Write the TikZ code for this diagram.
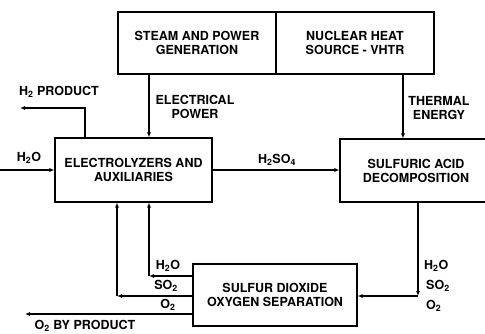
\documentclass[tikz,border=0pt]{standalone}
\usepackage{fontspec}
\setmainfont{TeX Gyre Heros}
\usetikzlibrary{arrows.meta}
\begin{document}
\begin{tikzpicture}[x=1pt,y=1pt,
    box/.style={rectangle,draw,line width=1.1pt,align=center,inner sep=0pt},
    flow/.style={line width=1.1pt,-{Latex[length=5pt,width=4pt]}},
    lbl/.style={align=center,inner sep=0pt},
    font=\fontsize{12.5}{14}\selectfont\bfseries]
        \clip (0,0) rectangle (485,333);
        % blocks
        \node[box,minimum width=158,minimum height=62] at (197,290) (steam) {STEAM AND POWER\\GENERATION};
        \node[box,minimum width=158,minimum height=62] at (355,290) (nuclear) {NUCLEAR HEAT\\SOURCE - VHTR};
        \node[box,minimum width=157,minimum height=64] at (133.5,163) (elec) {ELECTROLYZERS AND\\AUXILIARIES};
        \node[box,minimum width=152,minimum height=63] at (416,162.5) (acid) {SULFURIC ACID\\DECOMPOSITION};
        \node[box,minimum width=164,minimum height=62] at (275,38) (sep) {SULFUR DIOXIDE\\OXYGEN SEPARATION};
        % free ends and corners
        \coordinate (h2in) at (0,163);
        \coordinate (h2out) at (20,225);
        \coordinate (o2out) at (25,19);
        \coordinate (cr) at (418,37);
        \coordinate (ca) at (149,57);
        \coordinate (cb) at (117,37);
        % top connectors
        \draw[flow] ([xshift=-48]steam.south) -- ([xshift=15.5]elec.north);
        \draw[flow] ([xshift=48]nuclear.south) -- ([xshift=-13]acid.north);
        \node[lbl] at (195,226) (elecl) {ELECTRICAL\\POWER};
        \node[lbl] at (439,225) (therml) {THERMAL\\ENERGY};
        % electrolyzer in and out
        \draw[flow] (h2in) -- (elec.west);
        \node[lbl] at (29,175) (h2inl) {H\textsubscript{2}O};
        \draw[flow] ([xshift=-48.5]elec.north) |- (h2out);
        \node[lbl] at (59,241) (h2outl) {H\textsubscript{2} PRODUCT};
        \draw[flow] (elec.east) -- (elec.east -| acid.west);
        \node[lbl] at (277,173) (h2so4l) {H\textsubscript{2}SO\textsubscript{4}};
        % acid to separation
        \draw[flow] (acid.south -| cr) -- (cr);
        \draw[flow] (cr) -- (cr -| sep.east);
        \node[lbl,anchor=west] at (424,67) (rh2o) {H\textsubscript{2}O};
        \node[lbl,anchor=west] at (426,47) (rso2) {SO\textsubscript{2}};
        \node[lbl,anchor=west] at (426,27) (ro2) {O\textsubscript{2}};
        % recycle to electrolyzers
        \draw[flow] (sep.west |- ca) -- (ca);
        \draw[flow] (ca) -- (ca |- elec.south);
        \draw[flow] (sep.west |- cb) -- (cb);
        \draw[flow] (cb) -- (cb |- elec.south);
        \draw[flow] (sep.west |- o2out) -- (o2out);
        \node[lbl] at (168,67) (lh2o) {H\textsubscript{2}O};
        \node[lbl] at (166,47) (lso2) {SO\textsubscript{2}};
        \node[lbl] at (168,28) (lo2) {O\textsubscript{2}};
        \node[lbl,anchor=south] at (85,1.5) (o2l) {O\textsubscript{2} BY PRODUCT};
\end{tikzpicture}
\end{document}
